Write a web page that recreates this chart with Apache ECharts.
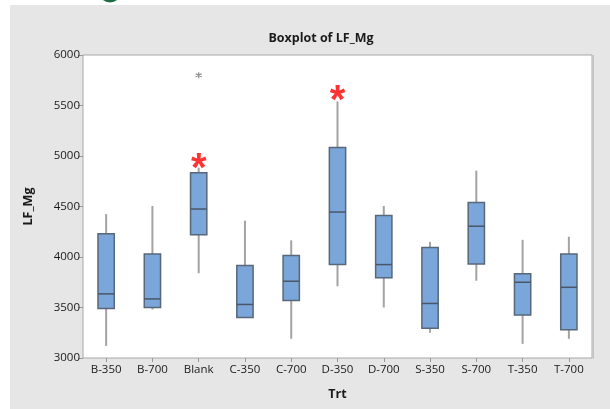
<!DOCTYPE html>
<html>
<head>
<meta charset="utf-8">
<script src="https://cdn.jsdelivr.net/npm/echarts@6/dist/echarts.min.js"></script>
<style>
  html, body { margin: 0; padding: 0; background: #ffffff; }
  #chart { width: 610px; height: 409px; }
</style>
</head>
<body>
<div id="chart"></div>
<script>
// Treatment groups on the x axis
const categories = ['B-350', 'B-700', 'Blank', 'C-350', 'C-700', 'D-350', 'D-700', 'S-350', 'S-700', 'T-350', 'T-700'];

// Five-number summaries per group: lower whisker, Q1, median, Q3, upper whisker
const whiskerLow  = [3120, 3480, 3840, 3400, 3190, 3710, 3500, 3250, 3765, 3140, 3190];
const quartile1   = [3490, 3500, 4220, 3400, 3570, 3925, 3795, 3295, 3930, 3425, 3280];
const medians     = [3635, 3585, 4475, 3530, 3760, 4445, 3925, 3540, 4305, 3750, 3700];
const quartile3   = [4230, 4030, 4835, 3915, 4015, 5085, 4410, 4095, 4540, 3835, 4030];
const whiskerHigh = [4425, 4505, 4885, 4360, 4165, 5540, 4505, 4150, 4855, 4170, 4200];

// Outlying observation (group, value)
const outliers = [['Blank', 5800]];

// Significance markers placed above selected groups (group, value)
const flagged = [['Blank', 4950], ['D-350', 5620]];

// Y axis ticks
const yTicks = [3000, 3500, 4000, 4500, 5000, 5500, 6000];

const boxData = categories.map((c, i) => [i, whiskerLow[i], quartile1[i], medians[i], quartile3[i], whiskerHigh[i]]);

const chart = echarts.init(document.getElementById('chart'));

const font = 'Open Sans';

chart.setOption({
  animation: false,
  backgroundColor: '#ffffff',
  graphic: [
    { type: 'rect', z: -10, shape: { x: 10, y: 5, width: 600, height: 404 }, style: { fill: '#e6e6e6' } },
    { type: 'circle', z: -9, shape: { cx: 110, cy: -9, r: 11.5 }, style: { fill: '#1d6b45' } },
    { type: 'line', z: 10, shape: { x1: 593.5, y1: 55, x2: 593.5, y2: 359 }, style: { stroke: '#c4c4c4', lineWidth: 1 } }
  ],
  title: {
    text: 'Boxplot of LF_Mg',
    left: 316, top: 27, textAlign: 'center',
    textStyle: { fontFamily: font, fontSize: 12.5, fontWeight: 'bold', color: '#1a1a1a' }
  },
  grid: {
    left: 83, top: 55, right: 18, bottom: 51,
    show: true, backgroundColor: '#ffffff', borderColor: '#a8a8a8', borderWidth: 1
  },
  xAxis: {
    type: 'category',
    data: categories,
    boundaryGap: true,
    name: 'Trt',
    nameLocation: 'middle',
    nameGap: 30,
    nameTextStyle: { fontFamily: font, fontSize: 12.5, fontWeight: 'bold', color: '#1a1a1a' },
    axisLine: { show: false },
    axisTick: { show: true, alignWithLabel: true, length: 4, lineStyle: { color: '#999' } },
    axisLabel: { fontFamily: font, fontSize: 11.5, color: '#1a1a1a', margin: 6, interval: 0 },
    splitLine: { show: false }
  },
  yAxis: {
    type: 'value',
    min: yTicks[0],
    max: yTicks[yTicks.length - 1],
    interval: yTicks[1] - yTicks[0],
    name: 'LF_Mg',
    nameLocation: 'middle',
    nameGap: 48,
    nameTextStyle: { fontFamily: font, fontSize: 12.5, fontWeight: 'bold', color: '#1a1a1a' },
    axisLine: { show: false },
    axisTick: { show: true, length: 5, lineStyle: { color: '#999' } },
    axisLabel: { fontFamily: font, fontSize: 11.5, color: '#1a1a1a', margin: 3, formatter: v => String(v) },
    splitLine: { show: false }
  },
  series: [
    {
      type: 'custom',
      data: boxData,
      encode: { x: 0, y: [1, 2, 3, 4, 5] },
      renderItem: function (params, api) {
        const idx = api.value(0);
        const pLow = api.coord([idx, api.value(1)]);
        const pQ1 = api.coord([idx, api.value(2)]);
        const pMed = api.coord([idx, api.value(3)]);
        const pQ3 = api.coord([idx, api.value(4)]);
        const pHigh = api.coord([idx, api.value(5)]);
        const bandW = api.size([1, 0])[0];
        const half = bandW * 0.176;
        const x = pMed[0];
        return {
          type: 'group',
          children: [
            {
              type: 'line',
              shape: { x1: x, y1: pHigh[1], x2: x, y2: pLow[1] },
              style: { stroke: '#a3a3a3', lineWidth: 2 }
            },
            {
              type: 'rect',
              shape: { x: x - half, y: pQ3[1], width: half * 2, height: pQ1[1] - pQ3[1] },
              style: { fill: '#7aa6da', stroke: '#58677a', lineWidth: 1.5 }
            },
            {
              type: 'line',
              shape: { x1: x - half, y1: pMed[1], x2: x + half, y2: pMed[1] },
              style: { stroke: '#4a5666', lineWidth: 1.5 }
            }
          ]
        };
      },
      z: 2
    },
    {
      type: 'scatter',
      data: outliers,
      symbol: 'path://M0,-5L0,5M-4.3,-2.5L4.3,2.5M-4.3,2.5L4.3,-2.5',
      symbolSize: 6,
      itemStyle: { color: 'none', borderColor: '#6a6a6a', borderWidth: 1.2 },
      z: 3
    },
    {
      type: 'scatter',
      data: flagged,
      symbolSize: 1,
      itemStyle: { color: 'rgba(0,0,0,0)' },
      label: {
        show: true,
        position: 'inside',
        offset: [0, 9],
        formatter: '*',
        fontFamily: 'Liberation Sans',
        fontWeight: 'bold',
        fontSize: 40,
        color: '#ff0000'
      },
      z: 4
    }
  ]
});
</script>
</body>
</html>
